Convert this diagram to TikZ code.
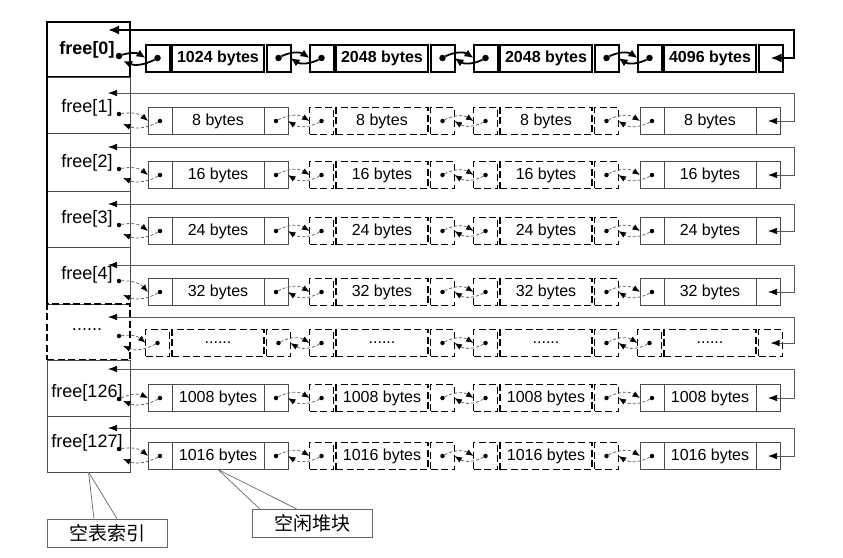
\documentclass[tikz,border=0pt]{standalone}
\usepackage{fontspec}
\setmainfont{Liberation Sans}
\newfontfamily\cjkfont{Noto Sans CJK SC}
\usetikzlibrary{arrows.meta,positioning}

\protected\def\gapdots{......}

\tikzset{
  side/.style={minimum width=24pt},
  mid/.style={minimum width=92pt},
  part/.style={minimum height=27pt, inner sep=0pt, outer sep=0pt},
  fatbox/.style={part, draw, line width=2pt, node distance=2.5pt, font=\fontsize{16}{18}\selectfont\bfseries},
  thinbox/.style={part, draw=black!70, line width=0.7pt, node distance=0pt, font=\fontsize{16}{18}\selectfont},
  dashbox/.style={part, draw, line width=1.9pt, dash pattern=on 7pt off 3.5pt, node distance=2.5pt, font=\fontsize{16}{18}\selectfont},
  heavy-1/.style=fatbox, heavy-2/.style=fatbox, heavy-3/.style=fatbox, heavy-4/.style=fatbox,
  mixed-1/.style=thinbox, mixed-2/.style=dashbox, mixed-3/.style=dashbox, mixed-4/.style=thinbox,
  hollow-1/.style=dashbox, hollow-2/.style=dashbox, hollow-3/.style=dashbox, hollow-4/.style=dashbox,
  heavy-idx/.style={draw, line width=2pt},
  mixed-idx/.style={draw=black!70, line width=0.7pt},
  hollow-idx/.style={draw, line width=1.9pt, dash pattern=on 7pt off 3.5pt},
  heavy-lab/.style={font=\fontsize{18}{20}\selectfont\bfseries},
  mixed-lab/.style={font=\fontsize{18}{20}\selectfont},
  hollow-lab/.style=mixed-lab,
  heavy-pin/.style={circle, fill, inner sep=0pt, minimum size=6.5pt},
  mixed-pin/.style={circle, fill, inner sep=0pt, minimum size=4.5pt},
  hollow-pin/.style=mixed-pin,
  heavy-link/.style={line width=1.8pt, -{Latex[length=9pt,width=8pt]}},
  mixed-link/.style={draw=black!60, line width=0.8pt, densely dashed, -{Latex[length=7.5pt,width=6pt,color=black]}},
  hollow-link/.style=mixed-link,
  heavy-loop/.style={line width=2pt, {Latex[length=11pt,width=9pt]}-{Latex[length=11pt,width=9pt]}},
  mixed-loop/.style={draw=black!65, line width=0.7pt, {Latex[length=9pt,width=6.5pt,color=black]}-{Latex[length=9pt,width=6.5pt,color=black]}},
  hollow-loop/.style=mixed-loop,
  note/.style={draw=black!60, line width=0.7pt, minimum width=120pt, minimum height=28pt, font=\cjkfont\fontsize{19}{21}\selectfont},
  leader/.style={draw=black!60, line width=0.7pt}
}

\begin{document}
\begin{tikzpicture}[x=1pt,y=-1pt]
  \useasboundingbox (0,0) rectangle (843,557);
  \foreach \row/\ytop/\ybot/\yl/\ylab/\yc/\sty/\lab/\txt in {
    0/22/77/30/50/58/heavy/{free[0]}/{1024 bytes,2048 bytes,2048 bytes,4096 bytes},
    1/77/133/93/108/121/mixed/{free[1]}/{8 bytes,8 bytes,8 bytes,8 bytes},
    2/133/191/147/163/175/mixed/{free[2]}/{16 bytes,16 bytes,16 bytes,16 bytes},
    3/191/247/204/219/231/mixed/{free[3]}/{24 bytes,24 bytes,24 bytes,24 bytes},
    4/247/304/265/275/292/mixed/{free[4]}/{32 bytes,32 bytes,32 bytes,32 bytes},
    dd/304/360/317/330/343/hollow/{\gapdots}/{\gapdots,\gapdots,\gapdots,\gapdots},
    126/360/416/369/393/398/mixed/{free[126]}/{1008 bytes,1008 bytes,1008 bytes,1008 bytes},
    127/416/472/428/443/456/mixed/{free[127]}/{1016 bytes,1016 bytes,1016 bytes,1016 bytes}}{
    \pgfmathsetmacro\hgt{\ybot-\ytop}
    \node[\sty-idx, minimum width=83pt, minimum height=\hgt pt, inner sep=0pt, outer sep=0pt, anchor=north west] (idx\row) at (47,\ytop) {};
    \node[\sty-lab, inner sep=1pt] (lab\row) at (87,\ylab) {\lab};
    \node[\sty-pin] (dot\row) at (119,\ylab+6) {};
    \coordinate (back\row) at (123,\yc+3);
    \foreach \word [count=\k] in \txt {
      \pgfmathsetmacro\xm{218+164*(\k-1)}
      \node[\sty-\k, mid] (b\row-\k-m) at (\xm,\yc) {\word};
      \node[\sty-\k, side, left=of b\row-\k-m] (b\row-\k-l) {};
      \node[\sty-\k, side, right=of b\row-\k-m] (b\row-\k-r) {};
      \node[\sty-pin] (p\row-\k-l) at (b\row-\k-l.center) {};
      \ifnum\k<4 \node[\sty-pin] (p\row-\k-r) at (b\row-\k-r.center) {};\fi
    }
    \draw[\sty-link] (dot\row) to[bend left=25] (b\row-1-l.west);
    \draw[\sty-link] (p\row-1-l) to[bend left=25] (back\row);
    \foreach \k/\n in {1/2,2/3,3/4}{
      \draw[\sty-link] (p\row-\k-r) to[bend left=30] (b\row-\n-l.west);
      \draw[\sty-link] (p\row-\n-l) to[bend left=30] (b\row-\k-r.east);
    }
    \coordinate (top\row) at (108,\yl);
    \coordinate (turn\row) at (794,\yl);
    \draw[\sty-loop] (top\row) -- (turn\row) |- (b\row-4-r.center);
  }
  \draw[line width=1.4pt] (idx1.north west) -- (idx4.south west);
  \node[note] (idxnote) at (107,533) {空表索引};
  \node[note] (heapnote) at (312,523.5) {空闲堆块};
  \draw[leader] (idx127.south) -- ([xshift=-13pt]idxnote.north);
  \draw[leader] (idx127.south) -- ([xshift=10pt]idxnote.north);
  \draw[leader] (b127-1-m.south) -- ([xshift=-52pt]heapnote.north);
  \draw[leader] (b127-1-m.south) -- ([xshift=-15pt]heapnote.north);
\end{tikzpicture}
\end{document}
